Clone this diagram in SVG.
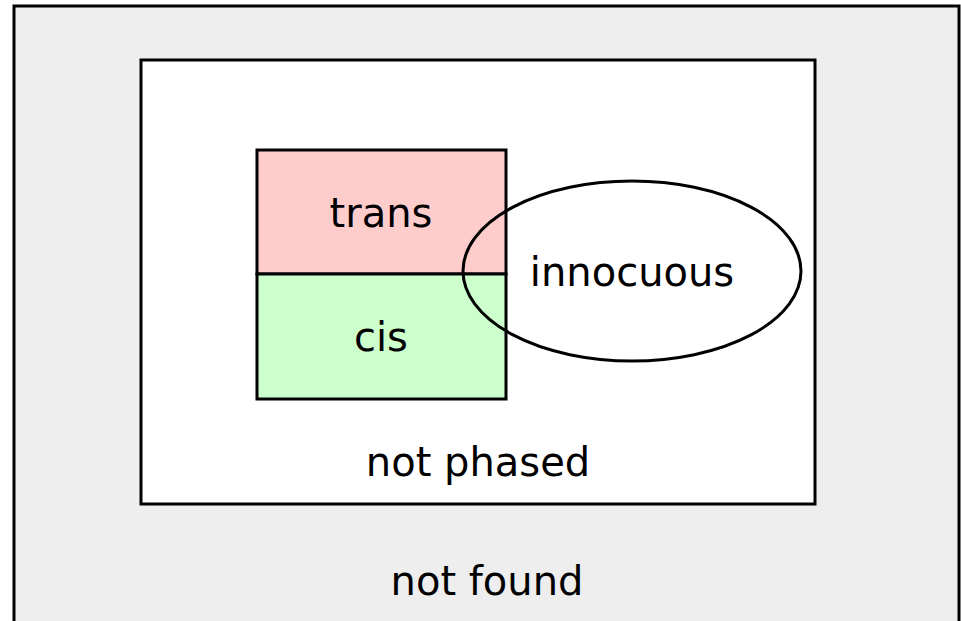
<svg xmlns="http://www.w3.org/2000/svg" width="961" height="621" viewBox="0 0 961 621">
<style>
.box{stroke:#000;stroke-width:3}
.lbl{font-family:"DejaVu Sans",sans-serif;font-size:40px;fill:#000;text-anchor:middle}
</style>
<rect width="961" height="621" fill="#fff"/>
<g id="not_found">
<rect class="box" x="14" y="6" width="945" height="630" fill="#eeeeee"/>
<text class="lbl" x="487" y="595">not found</text>
</g>
<g id="not_phased">
<rect class="box" x="141" y="60" width="674" height="444" fill="#ffffff"/>
<text class="lbl" x="478" y="476">not phased</text>
</g>
<g id="trans">
<rect class="box" x="257" y="150" width="249" height="124" fill="#ffcccc"/>
<text class="lbl" x="381" y="227">trans</text>
</g>
<g id="cis">
<rect class="box" x="257" y="274" width="249" height="125" fill="#ccffcc"/>
<text class="lbl" x="381" y="351">cis</text>
</g>
<g id="innocuous">
<ellipse cx="632" cy="271" rx="169" ry="90" fill="none" stroke="#000" stroke-width="3"/>
<text class="lbl" x="632" y="286">innocuous</text>
</g>
<g id="connectors"></g>
</svg>
